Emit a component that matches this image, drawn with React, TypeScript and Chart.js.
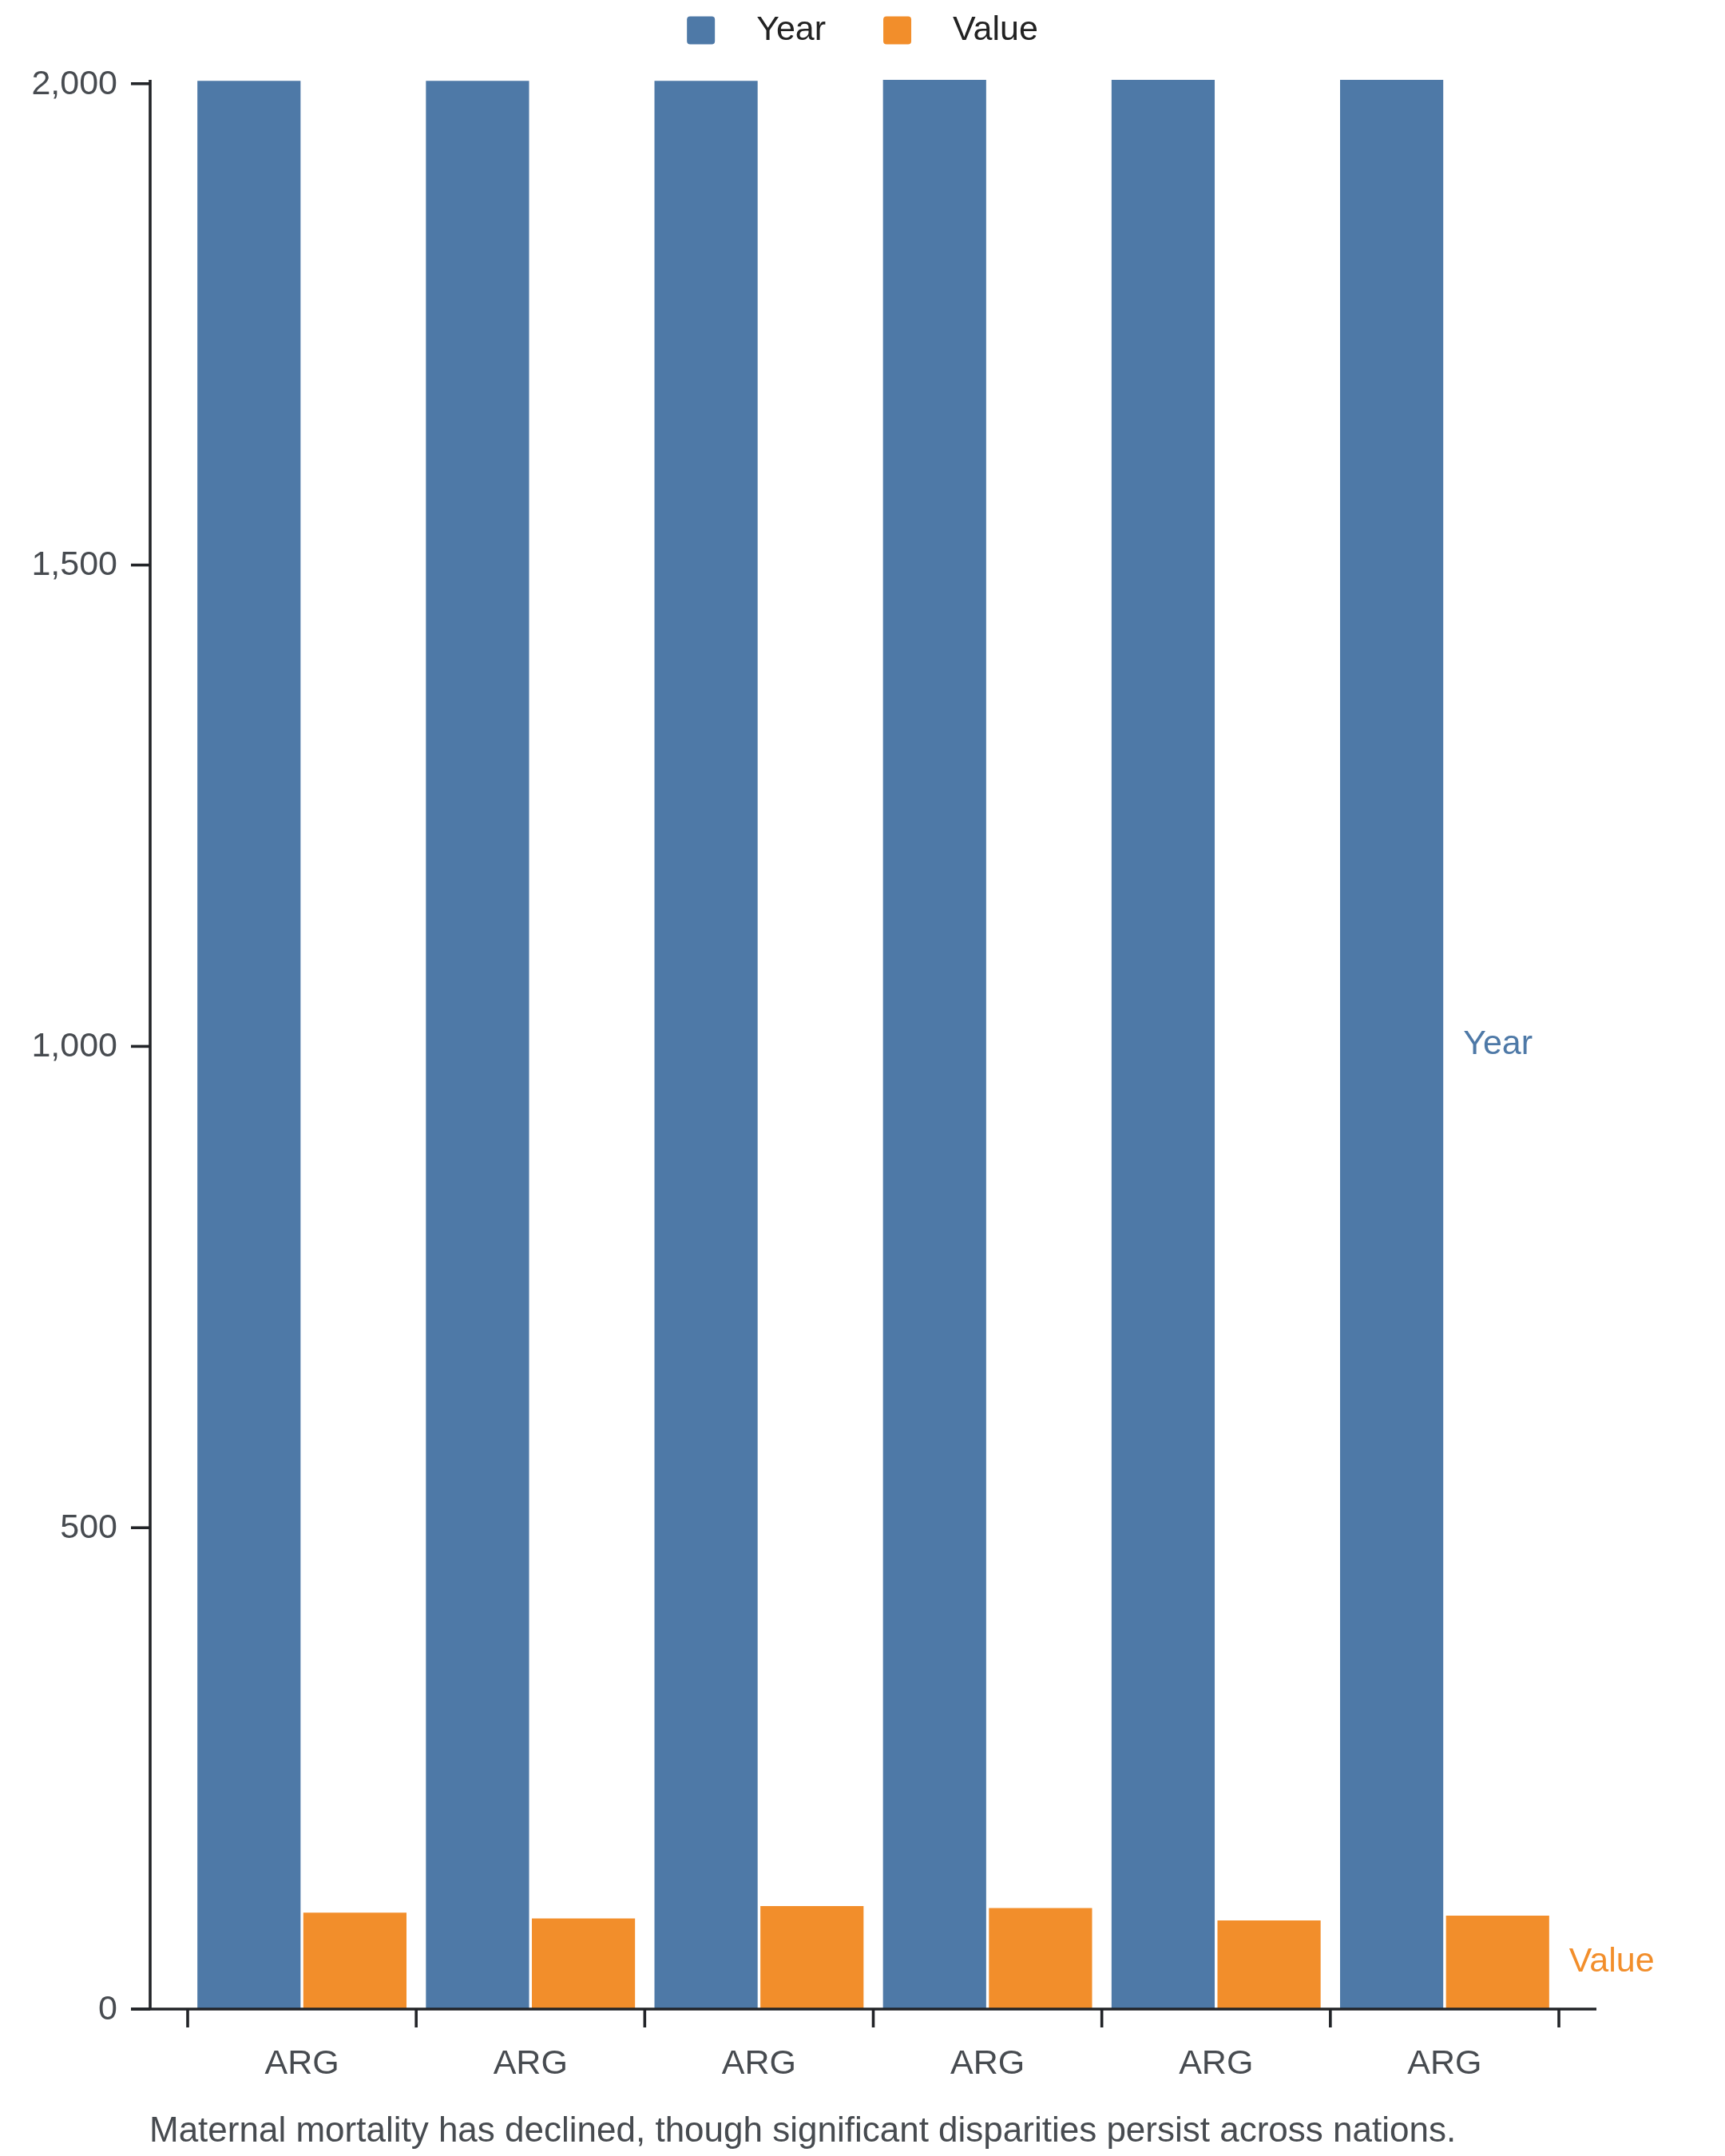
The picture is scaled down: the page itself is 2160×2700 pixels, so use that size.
import React, { useEffect, useRef } from "react";
import { Chart, registerables } from "chart.js";

Chart.register(...registerables);

const categories = ["ARG", "ARG", "ARG", "ARG", "ARG", "ARG"];
const yearSeries = [2003, 2003, 2003, 2004, 2004, 2004];
const valueSeries = [100.1, 94.2, 107.0, 104.9, 92.1, 97.0];
const yTicks = [0, 500, 1000, 1500, 2000];
const seriesNames = ["Year", "Value"];
const caption =
  "Maternal mortality has declined, though significant disparities persist across nations.";

const BLUE = "#4e79a7";
const ORANGE = "#f28e2b";
const AXIS = "#222428";
const TEXT = "#474b50";
const FONT = '43px "Liberation Sans", Arial, sans-serif';
const CAPTION_FONT = '44px "Liberation Sans", Arial, sans-serif';

const overlay = {
  id: "overlay",
  afterDatasetsDraw(chart: any) {
    const { ctx, scales } = chart;
    const x = scales.x;
    const y = scales.y;
    const n = categories.length;
    const step = x.getPixelForValue(1) - x.getPixelForValue(0);
    const left = x.getPixelForValue(0) - step / 2;
    const right = x.getPixelForValue(n - 1) + step / 2;
    const axisX = left - 47;
    const base = y.getPixelForValue(0);
    const top = y.getPixelForValue(y.max);

    ctx.save();
    ctx.strokeStyle = AXIS;
    ctx.lineWidth = 3.6;
    ctx.lineCap = "butt";

    // y axis
    ctx.beginPath();
    ctx.moveTo(axisX, top);
    ctx.lineTo(axisX, base);
    ctx.stroke();

    ctx.font = FONT;
    ctx.fillStyle = TEXT;
    ctx.textAlign = "right";
    ctx.textBaseline = "middle";
    for (const v of yTicks) {
      const py = y.getPixelForValue(v);
      ctx.beginPath();
      ctx.moveTo(axisX - 24, py);
      ctx.lineTo(axisX, py);
      ctx.stroke();
      ctx.fillText(v.toLocaleString("en-US"), axisX - 41, py + 1);
    }

    // x axis
    ctx.beginPath();
    ctx.moveTo(axisX - 24, base);
    ctx.lineTo(right + 47, base);
    ctx.stroke();
    for (let i = 0; i <= n; i++) {
      const bx = left + i * step;
      ctx.beginPath();
      ctx.moveTo(bx, base);
      ctx.lineTo(bx, base + 23);
      ctx.stroke();
    }
    ctx.textAlign = "center";
    for (let i = 0; i < n; i++) {
      ctx.fillText(categories[i], x.getPixelForValue(i), base + 69);
    }

    // caption
    ctx.font = CAPTION_FONT;
    ctx.textAlign = "left";
    ctx.textBaseline = "alphabetic";
    ctx.fillText(caption, axisX - 1, 2682);
    ctx.font = FONT;

    // end labels
    ctx.textBaseline = "middle";
    chart.data.datasets.forEach((ds: any, di: number) => {
      const meta = chart.getDatasetMeta(di);
      const el = meta.data[n - 1];
      const p = el.getProps(["x", "y", "base", "width"], true);
      ctx.fillStyle = ds.backgroundColor;
      ctx.fillText(ds.label, p.x + p.width / 2 + 25, (p.y + p.base) / 2);
    });

    // legend
    const box = 35;
    const gapBoxText = 52;
    const gapItems = 72;
    const widths = seriesNames.map((s) => ctx.measureText(s).width);
    let total = 0;
    widths.forEach((w, i) => {
      total += box + gapBoxText + w + (i < widths.length - 1 ? gapItems : 0);
    });
    let lx = 1080 - total / 2;
    const ly = 38;
    const colors = [BLUE, ORANGE];
    seriesNames.forEach((s, i) => {
      ctx.fillStyle = colors[i];
      ctx.beginPath();
      (ctx as any).roundRect(lx, ly - box / 2, box, box, 4);
      ctx.fill();
      ctx.fillStyle = "#222";
      ctx.fillText(s, lx + box + gapBoxText, ly);
      lx += box + gapBoxText + widths[i] + gapItems;
    });
    ctx.restore();
  },
};

export default function App() {
  const ref = useRef<HTMLCanvasElement>(null);
  useEffect(() => {
    if (!ref.current) return;
    const chart = new Chart(ref.current, {
      type: "bar",
      data: {
        labels: categories,
        datasets: [
          {
            label: seriesNames[0],
            data: yearSeries,
            backgroundColor: BLUE,
            borderWidth: 0,
            categoryPercentage: 0.927,
            barPercentage: 0.974,
            clip: false as any,
          },
          {
            label: seriesNames[1],
            data: valueSeries,
            backgroundColor: ORANGE,
            borderWidth: 0,
            categoryPercentage: 0.927,
            barPercentage: 0.974,
            clip: false as any,
          },
        ],
      },
      options: {
        animation: false,
        responsive: false,
        devicePixelRatio: 1,
        layout: { padding: { left: 235, right: 208, top: 100, bottom: 184 } },
        plugins: { legend: { display: false }, tooltip: { enabled: false } },
        scales: {
          x: { display: false, offset: true },
          y: { display: false, min: 0, max: 2004 },
        },
      },
      plugins: [overlay],
    });
    return () => chart.destroy();
  }, []);
  return (
    <div style={{ position: "fixed", left: 0, top: 0, width: 2160, height: 2700, background: "#fff" }}>
      <canvas ref={ref} width={2160} height={2700} style={{ width: 2160, height: 2700, display: "block" }} />
    </div>
  );
}
